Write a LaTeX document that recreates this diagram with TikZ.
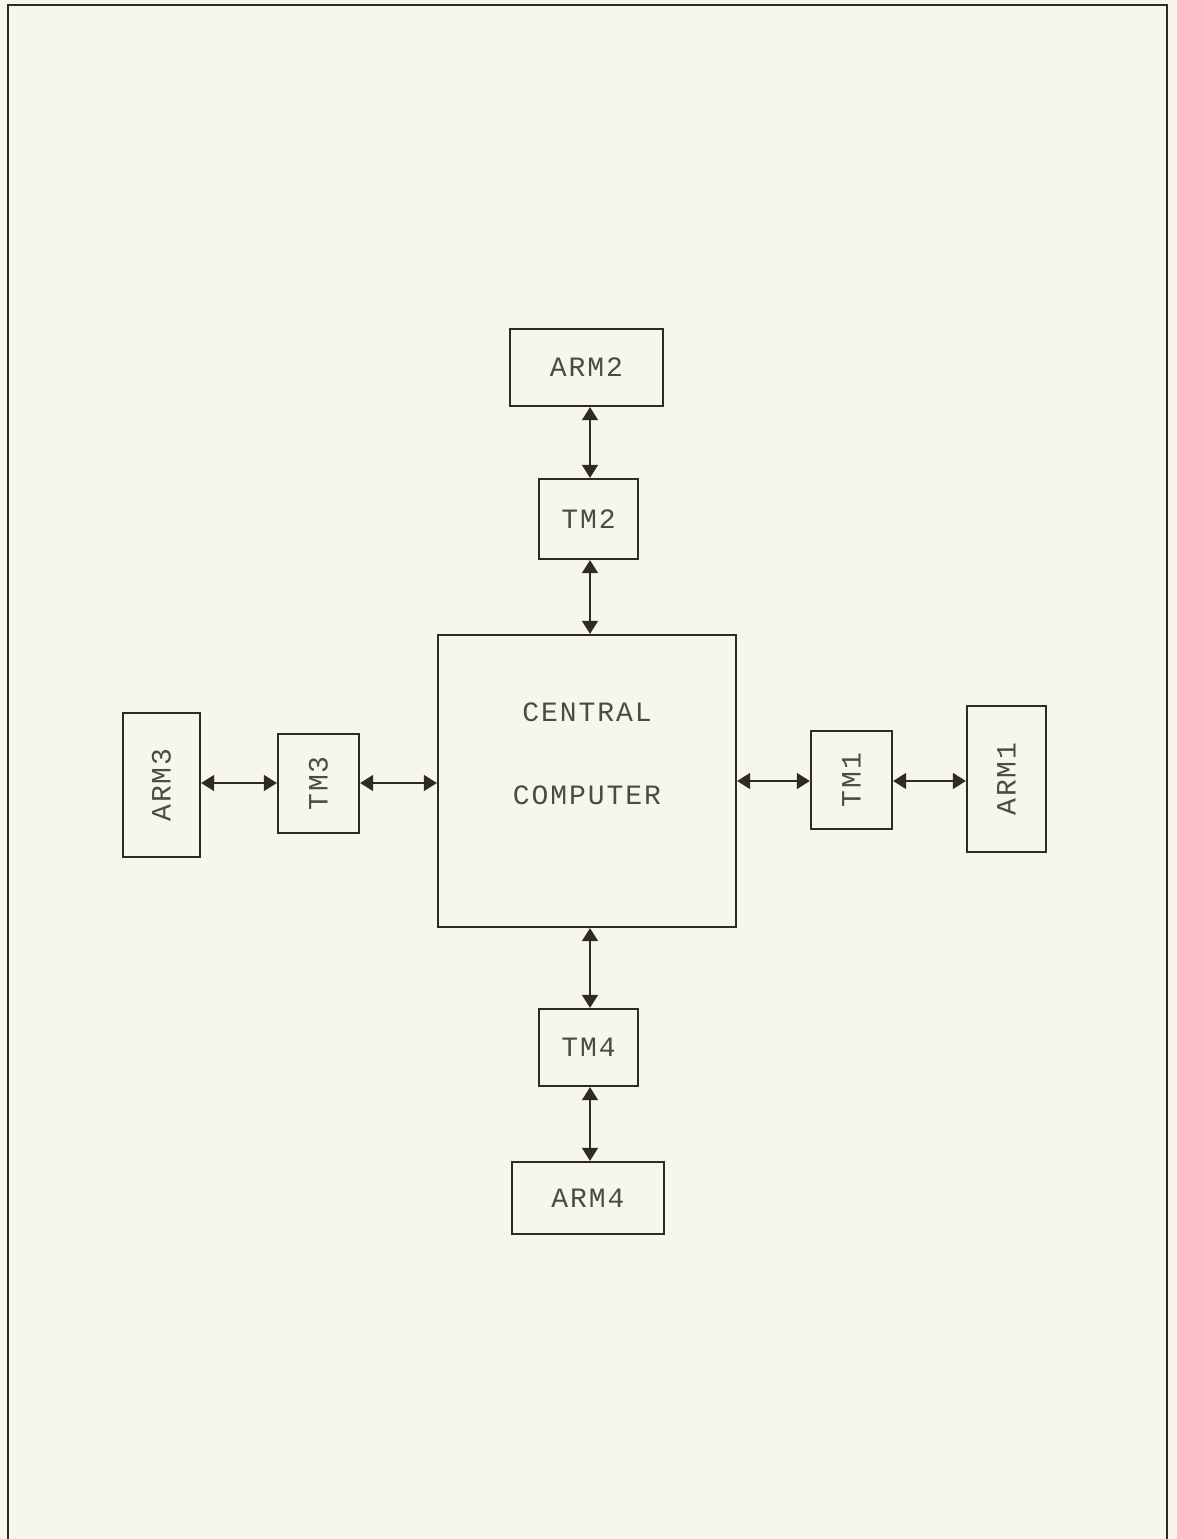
\documentclass[tikz,border=0pt]{standalone}
\usepackage{fontspec}
\setmonofont{Liberation Mono}[LetterSpace=7]
\usetikzlibrary{arrows.meta}
\definecolor{paper}{RGB}{246,246,234}
\definecolor{ink}{RGB}{45,42,40}
\tikzset{
  blk/.style={draw=ink, line width=2.3pt, rectangle, inner sep=0pt},
  lbl/.style={text=ink!85, font=\ttfamily\fontsize{28}{30}\selectfont, inner sep=0pt},
  link/.style={draw=ink, line width=1.5pt, {Triangle[length=13pt,width=16pt]}-{Triangle[length=13pt,width=16pt]}},
}
\begin{document}
\begin{tikzpicture}[x=1pt,y=-1pt]
\useasboundingbox (0,0) rectangle (1177,1539);
\fill[paper] (0,0) rectangle (1177,1539);
\draw[ink, line width=1.8pt] (8,1539) -- (8,5) -- (1167,5) -- (1167,1539);

% vertical column
\node[blk, minimum width=153pt, minimum height=77pt] (arm2) at (586.5,367.5) {};
\node[lbl] at (arm2.center) {ARM2};
\node[blk, minimum width=99pt, minimum height=80pt] (tm2) at (588.5,519) {};
\node[lbl] at (tm2.center) {TM2};
\node[blk, minimum width=298pt, minimum height=292pt] (cc) at (587,781) {};
\node[lbl] (t1) at (587,712) {CENTRAL};
\node[lbl] (t2) at (587,795) {COMPUTER};
\node[blk, minimum width=99pt, minimum height=77pt] (tm4) at (588.5,1047.5) {};
\node[lbl] at (tm4.center) {TM4};
\node[blk, minimum width=152pt, minimum height=72pt] (arm4) at (588,1198) {};
\node[lbl] at (arm4.center) {ARM4};

% left side
\node[blk, minimum width=77pt, minimum height=144pt] (arm3) at (161.5,785) {};
\node[lbl, rotate=90] at (arm3.center) {ARM3};
\node[blk, minimum width=81pt, minimum height=99pt] (tm3) at (318.5,783.5) {};
\node[lbl, rotate=90] at (tm3.center) {TM3};

% right side
\node[blk, minimum width=81pt, minimum height=98pt] (tm1) at (851.5,780) {};
\node[lbl, rotate=90] at (tm1.center) {TM1};
\node[blk, minimum width=79pt, minimum height=146pt] (arm1) at (1006.5,779) {};
\node[lbl, rotate=90] at (arm1.center) {ARM1};

% connectors
\coordinate (vx) at (590,0);
\draw[link] (vx |- arm2.south) -- (vx |- tm2.north);
\draw[link] (vx |- tm2.south) -- (vx |- cc.north);
\draw[link] (vx |- cc.south) -- (vx |- tm4.north);
\draw[link] (vx |- tm4.south) -- (vx |- arm4.north);

\coordinate (hy) at (0,783);
\draw[link] (hy -| arm3.east) -- (hy -| tm3.west);
\draw[link] (hy -| tm3.east) -- (hy -| cc.west);
\coordinate (hz) at (0,781);
\draw[link] (hz -| cc.east) -- (hz -| tm1.west);
\draw[link] (hz -| tm1.east) -- (hz -| arm1.west);
\end{tikzpicture}
\end{document}
